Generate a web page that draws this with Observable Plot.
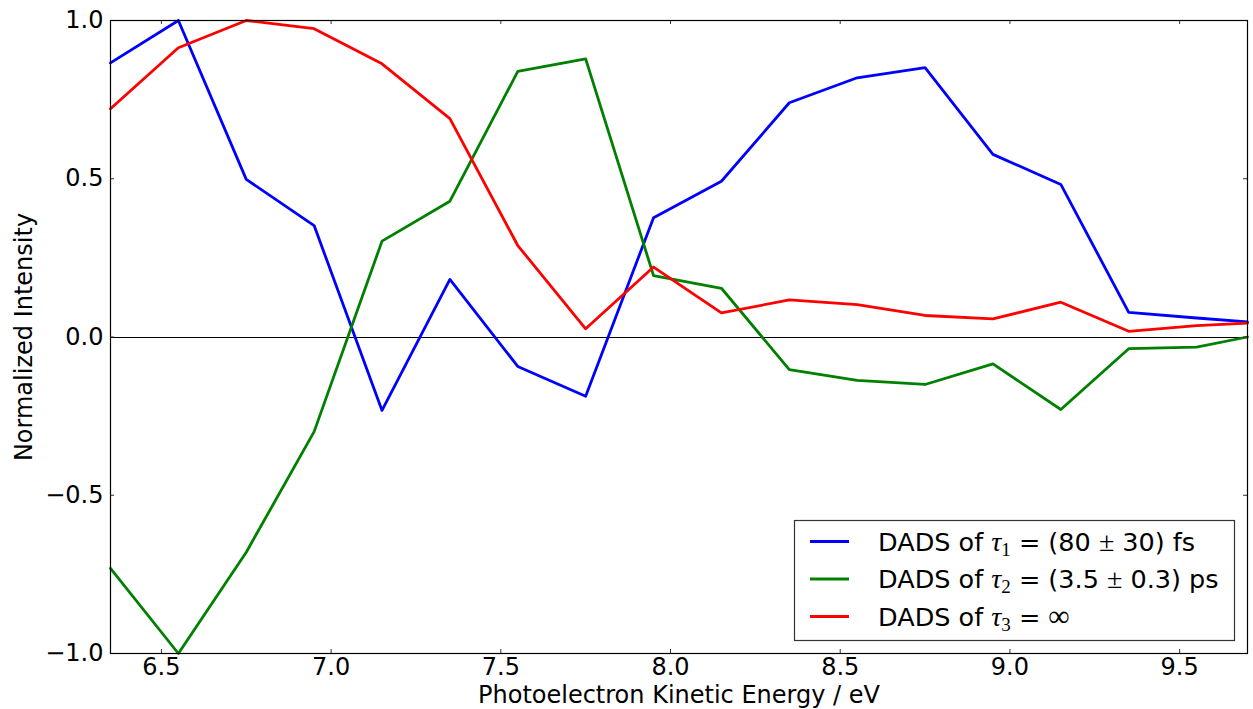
<!DOCTYPE html>
<html>
<head>
<meta charset="utf-8">
<script src="https://cdn.jsdelivr.net/npm/d3@7"></script>
<script src="https://cdn.jsdelivr.net/npm/@observablehq/plot@0.6"></script>
<style>
  html, body { margin: 0; padding: 0; background: #fff; }
  svg { font-family: "DejaVu Sans"; }
</style>
</head>
<body>
<div id="chart"></div>
<script>
// Photoelectron kinetic energy (eV)
const energy = [6.35, 6.55, 6.75, 6.95, 7.15, 7.35, 7.55, 7.75, 7.95, 8.15, 8.35, 8.55, 8.75, 8.95, 9.15, 9.35, 9.55, 9.70];
// DADS of tau1 = (80 ± 30) fs
const dads1 = [0.866, 1.000, 0.498, 0.352, -0.232, 0.182, -0.093, -0.187, 0.377, 0.492, 0.740, 0.819, 0.851, 0.577, 0.482, 0.078, 0.060, 0.048];
// DADS of tau2 = (3.5 ± 0.3) ps
const dads2 = [-0.731, -1.000, -0.680, -0.299, 0.303, 0.429, 0.839, 0.879, 0.194, 0.154, -0.103, -0.137, -0.150, -0.085, -0.229, -0.037, -0.032, 0.000];
// DADS of tau3 = infinity
const dads3 = [0.721, 0.914, 1.000, 0.974, 0.863, 0.690, 0.289, 0.026, 0.221, 0.076, 0.117, 0.102, 0.068, 0.057, 0.110, 0.018, 0.036, 0.044];

const seriesColors = ["#0000ff", "#008000", "#ff0000"];
const legendParts = [
  {pre: "DADS of ", sub: "1", post: " = (80 ", pm: true, tail: " 30) fs"},
  {pre: "DADS of ", sub: "2", post: " = (3.5 ", pm: true, tail: " 0.3) ps"},
  {pre: "DADS of ", sub: "3", post: " = ", inf: true}
];
const xTicks = [6.5, 7.0, 7.5, 8.0, 8.5, 9.0, 9.5];
const yTicks = [-1.0, -0.5, 0.0, 0.5, 1.0];
const xLabel = "Photoelectron Kinetic Energy / eV";
const yLabel = "Normalized Intensity";

const W = 1253, H = 709;
const M = {top: 20, right: 6, bottom: 56, left: 110};
const FW = W - M.left - M.right, FH = H - M.top - M.bottom;
const TICK = 4;
const FS = 24;
const LFS = 25.5;

const toRows = (vals) => energy.map((e, i) => ({e, v: vals[i]}));
const fmt = d3.format(".1f");

const plot = Plot.plot({
  width: W, height: H,
  marginTop: M.top, marginRight: M.right, marginBottom: M.bottom, marginLeft: M.left,
  style: {fontFamily: "DejaVu Sans", fontSize: FS + "px", background: "#fff", color: "#000", overflow: "visible"},
  x: {domain: [6.35, 9.70]},
  y: {domain: [-1, 1]},
  marks: [
    Plot.ruleY([0], {stroke: "#000", strokeWidth: 1, shapeRendering: "crispEdges"}),
    Plot.line(toRows(dads1), {x: "e", y: "v", stroke: seriesColors[0], strokeWidth: 2.8}),
    Plot.line(toRows(dads2), {x: "e", y: "v", stroke: seriesColors[1], strokeWidth: 2.8}),
    Plot.line(toRows(dads3), {x: "e", y: "v", stroke: seriesColors[2], strokeWidth: 2.8}),
    // inward ticks on all four sides
    Plot.ruleX(xTicks, {x: d => d, insetTop: FH - TICK, stroke: "#333"}),
    Plot.ruleX(xTicks, {x: d => d, insetBottom: FH - TICK, stroke: "#333"}),
    Plot.ruleY(yTicks, {y: d => d, insetRight: FW - TICK, stroke: "#333"}),
    Plot.ruleY(yTicks, {y: d => d, insetLeft: FW - TICK, stroke: "#333"}),
    Plot.frame({stroke: "#000", strokeWidth: 1.2}),
    Plot.axisX(xTicks, {tickSize: 0, tickPadding: 4, tickFormat: fmt, label: null, fontSize: FS}),
    Plot.axisY(yTicks, {tickSize: 0, tickPadding: 7, tickFormat: fmt, label: null, fontSize: FS}),
    Plot.text([xLabel], {frameAnchor: "bottom", dy: 42, text: d => d, lineAnchor: "middle", textAnchor: "middle", fontSize: FS}),
    Plot.text([yLabel], {frameAnchor: "left", dx: -86, rotate: -90, text: d => d, lineAnchor: "middle", textAnchor: "middle", fontSize: FS})
  ]
});
document.getElementById("chart").appendChild(plot);

// Legend (lower right, inside the frame)
const svg = d3.select(plot);
const lg = svg.append("g").attr("text-anchor", "start");
const box = {x: 794.5, y: 520.5, w: 440, h: 120};
lg.append("rect").attr("x", box.x).attr("y", box.y).attr("width", box.w).attr("height", box.h)
  .attr("fill", "#fff").attr("stroke", "#333").attr("stroke-width", 1.2);
const rowY = [541.5, 579, 616.5];
legendParts.forEach((p, i) => {
  const y = rowY[i];
  lg.append("line").attr("x1", 810).attr("x2", 849).attr("y1", y).attr("y2", y)
    .attr("stroke", seriesColors[i]).attr("stroke-width", 2.8);
  const t = lg.append("text").attr("x", 878).attr("y", y + 9).attr("font-size", LFS)
    .attr("text-anchor", "start").attr("font-family", "DejaVu Sans").attr("fill", "#000");
  t.append("tspan").text(p.pre);
  t.append("tspan").attr("font-family", "Liberation Serif").attr("font-style", "italic").attr("font-size", 28).text("τ");
  t.append("tspan").attr("font-family", "Liberation Serif").attr("font-size", 19).attr("dy", 5).text(p.sub);
  t.append("tspan").attr("dy", -5).text(p.post);
  if (p.pm) {
    t.append("tspan").attr("font-family", "Liberation Serif").attr("font-size", 28).text("±");
    t.append("tspan").text(p.tail);
  }
  if (p.inf) {
    t.append("tspan").attr("font-family", "Liberation Serif").attr("font-size", 30).text("∞");
  }
});
</script>
</body>
</html>
